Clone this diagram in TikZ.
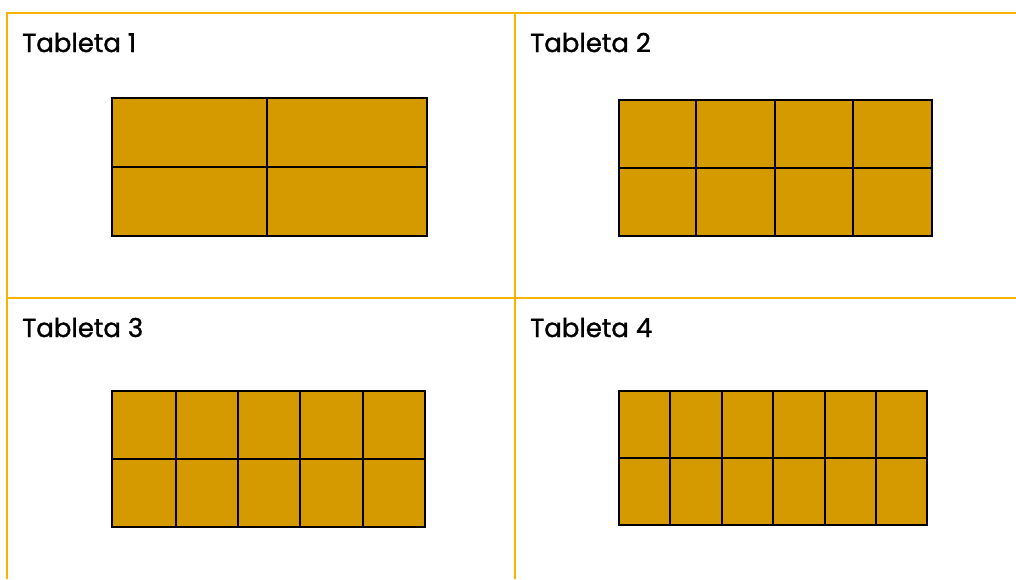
\documentclass[tikz,border=0pt]{standalone}
\usepackage{fontspec}
\setmainfont{Poppins}[FakeBold=1.2]
\definecolor{frameor}{RGB}{250,180,0}
\definecolor{choc}{RGB}{213,154,0}
\begin{document}
\begin{tikzpicture}[x=1pt,y=-1pt,
  frameline/.style={draw=frameor,line width=2.8pt},
  bar/.style={fill=choc,draw=black,line width=1.5pt},
  cell/.style={draw=black,line width=1.5pt},
  title/.style={anchor=base west,inner sep=0pt,font=\fontsize{26}{30}\selectfont}]
\useasboundingbox (0,0) rectangle (1016,579);
% frame
\draw[frameline] (7,579) -- (7,13) -- (1016,13);
\draw[frameline] (515,13) -- (515,579);
\draw[frameline] (7,298) -- (1016,298);
% titles
\node[title] (t1) at (22,52) {Tableta 1};
\node[title] (t2) at (530,52) {Tableta 2};
\node[title] (t3) at (22,337) {Tableta 3};
\node[title] (t4) at (530,337) {Tableta 4};
% tablet 1
\draw[bar] (112,98) rectangle (427,236);
\draw[cell] (112,167) -- (427,167);
\draw[cell] (267,98) -- (267,236);
% tablet 2
\draw[bar] (619,100) rectangle (932,236);
\draw[cell] (619,168) -- (932,168);
\foreach \x in {696,775,853} \draw[cell] (\x,100) -- (\x,236);
% tablet 3
\draw[bar] (112,391) rectangle (425,527);
\draw[cell] (112,459) -- (425,459);
\foreach \x in {176,238,300,363} \draw[cell] (\x,391) -- (\x,527);
% tablet 4
\draw[bar] (619,391) rectangle (927,525);
\draw[cell] (619,458) -- (927,458);
\foreach \x in {670,722,773,825,876} \draw[cell] (\x,391) -- (\x,525);
\end{tikzpicture}
\end{document}
